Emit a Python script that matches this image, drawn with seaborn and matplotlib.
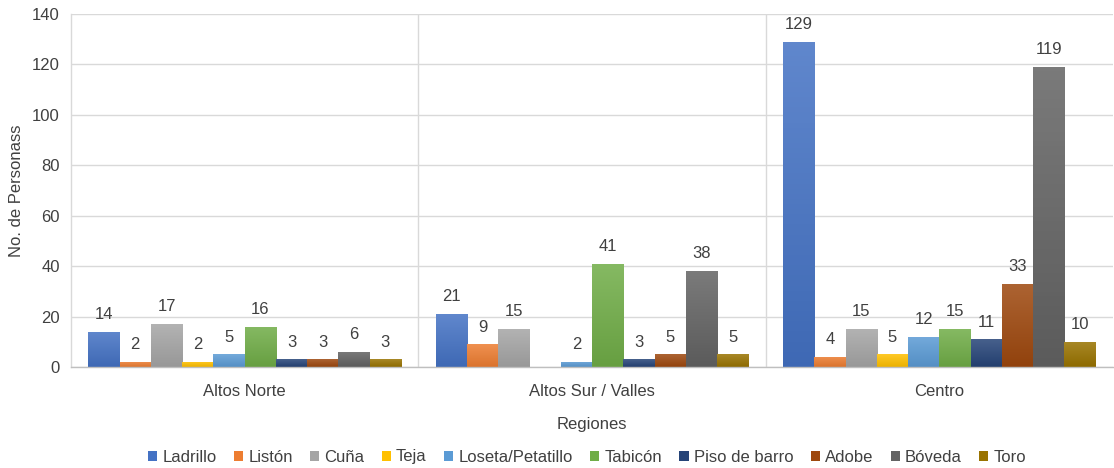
import numpy as np
import pandas as pd
import matplotlib
matplotlib.use("Agg")
import matplotlib.pyplot as plt
import matplotlib.colors as mcolors
from matplotlib.patches import Patch
import seaborn as sns

regions = ["Altos Norte", "Altos Sur / Valles", "Centro"]
series = ["Ladrillo", "Listón", "Cuña", "Teja", "Loseta/Petatillo",
          "Tabicón", "Piso de barro", "Adobe", "Bóveda", "Toro"]
ladrillo = [14, 21, 129]
liston = [2, 9, 4]
cuna = [17, 15, 15]
teja = [2, np.nan, 5]
loseta = [5, 2, 12]
tabicon = [16, 41, 15]
piso = [3, 3, 11]
adobe = [3, 5, 33]
boveda = [6, 38, 119]
toro = [3, 5, 10]
colors = ["#4472C4", "#ED7D31", "#A5A5A5", "#FFC000", "#5B9BD5",
          "#70AD47", "#264478", "#9E480E", "#636363", "#997300"]

values = [ladrillo, liston, cuna, teja, loseta, tabicon, piso, adobe, boveda, toro]
rows = []
for s, vals in zip(series, values):
    for r, v in zip(regions, vals):
        if not np.isnan(v):
            rows.append({"Región": r, "Material": s, "Valor": v})
df = pd.DataFrame(rows)

sns.set_theme(style="white")
plt.rcParams["font.family"] = ["Liberation Sans", "DejaVu Sans"]

fig = plt.figure(figsize=(11.14, 4.68), dpi=100)
ax = fig.add_axes([71 / 1114, 1 - 367 / 468, (1113 - 71) / 1114, (367 - 14) / 468])

sns.barplot(data=df, x="Región", y="Valor", hue="Material", order=regions,
            hue_order=series, palette=colors, width=0.9, gap=0,
            errorbar=None, legend=False, ax=ax, saturation=1)

ax.set_ylim(0, 140)
ax.set_xlim(-0.5, 2.5)
ax.set_yticks(range(0, 141, 20))

def mix(c, t, a):
    c = np.array(mcolors.to_rgb(c)); t = np.array(mcolors.to_rgb(t))
    return tuple(c * (1 - a) + t * a)

FS = 12
# gradient fill + labels
for patch in list(ax.patches):
    h = patch.get_height()
    if h is None or np.isnan(h) or h <= 0:
        continue
    x0 = patch.get_x(); w = patch.get_width()
    base = patch.get_facecolor()
    top = mix(base, "white", 0.15)
    bot = mix(base, "black", 0.08)
    cmap = mcolors.LinearSegmentedColormap.from_list("g", [bot, top])
    grad = np.linspace(0, 1, 64).reshape(-1, 1)
    im = ax.imshow(grad, extent=[x0, x0 + w, 0, h], origin="lower",
                   aspect="auto", cmap=cmap, zorder=patch.get_zorder() + 0.1)
    im.set_clip_path(patch)
    patch.set_edgecolor("none")
    ax.annotate(f"{int(round(h))}", (x0 + w / 2, h), xytext=(0, 7),
                textcoords="offset points", ha="center", va="bottom",
                fontsize=FS, color="#404040")

ax.set_ylim(0, 140)
ax.set_xlim(-0.5, 2.5)

grid_c = "#D9D9D9"
ax.yaxis.grid(True, color=grid_c, linewidth=1)
for xb in [0.5, 1.5]:
    ax.axvline(xb, color=grid_c, linewidth=1, zorder=0)
ax.set_axisbelow(True)
for sp in ["top", "right"]:
    ax.spines[sp].set_visible(False)
ax.spines["left"].set_color(grid_c)
ax.spines["bottom"].set_color("#BFBFBF")
ax.spines["left"].set_linewidth(1)
ax.spines["bottom"].set_linewidth(1)

ax.tick_params(axis="both", length=0, labelsize=FS, labelcolor="#404040")
ax.tick_params(axis="x", pad=12)
ax.tick_params(axis="y", pad=8)
ax.set_xlabel("Regiones", fontsize=FS, color="#404040", labelpad=13)
ax.set_ylabel("No. de Personass", fontsize=FS, color="#404040", labelpad=6)

handles = [Patch(facecolor=c, edgecolor="none", label=s) for c, s in zip(colors, series)]
fig.legend(handles=handles, loc="center", bbox_to_anchor=(0.527, 1 - 457 / 468),
           ncol=10, frameon=False, fontsize=FS, labelcolor="#404040",
           handlelength=0.55, handleheight=0.55, handletextpad=0.3,
           columnspacing=1.05, borderaxespad=0)

fig.savefig("out.png", dpi=100)
